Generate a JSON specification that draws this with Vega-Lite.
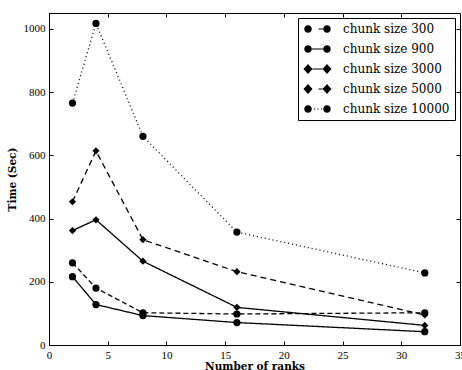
{
  "$schema": "https://vega.github.io/schema/vega-lite/v6.json",
  "width": 411,
  "height": 332,
  "autosize": {"type": "none"},
  "padding": {"left": 49, "top": 13, "right": 2, "bottom": 25},
  "background": "white",
  "config": {
    "view": {"stroke": "black", "strokeWidth": 1},
    "axis": {
      "grid": false,
      "domain": false,
      "tickColor": "black",
      "tickSize": -4,
      "tickWidth": 1,
      "labelColor": "black",
      "labelFont": "Liberation Serif",
      "labelFontSize": 11,
      "labelPadding": 8,
      "labelFlush": false,
      "labelOverlap": false,
      "titleFont": "DejaVu Serif",
      "titleFontWeight": "bold",
      "titleFontSize": 10.5,
      "titleColor": "black"
    }
  },
  "data": {
    "values": [
      {"series": "chunk size 300", "ranks": 2, "time": 260},
      {"series": "chunk size 300", "ranks": 4, "time": 180},
      {"series": "chunk size 300", "ranks": 8, "time": 102},
      {"series": "chunk size 300", "ranks": 16, "time": 98},
      {"series": "chunk size 300", "ranks": 32, "time": 102},
      {"series": "chunk size 900", "ranks": 2, "time": 216},
      {"series": "chunk size 900", "ranks": 4, "time": 128},
      {"series": "chunk size 900", "ranks": 8, "time": 93},
      {"series": "chunk size 900", "ranks": 16, "time": 71},
      {"series": "chunk size 900", "ranks": 32, "time": 42},
      {"series": "chunk size 3000", "ranks": 2, "time": 362},
      {"series": "chunk size 3000", "ranks": 4, "time": 396},
      {"series": "chunk size 3000", "ranks": 8, "time": 265},
      {"series": "chunk size 3000", "ranks": 16, "time": 119},
      {"series": "chunk size 3000", "ranks": 32, "time": 62},
      {"series": "chunk size 5000", "ranks": 2, "time": 453},
      {"series": "chunk size 5000", "ranks": 4, "time": 614},
      {"series": "chunk size 5000", "ranks": 8, "time": 333},
      {"series": "chunk size 5000", "ranks": 16, "time": 232},
      {"series": "chunk size 5000", "ranks": 32, "time": 95},
      {"series": "chunk size 10000", "ranks": 2, "time": 765},
      {"series": "chunk size 10000", "ranks": 4, "time": 1017},
      {"series": "chunk size 10000", "ranks": 8, "time": 660},
      {"series": "chunk size 10000", "ranks": 16, "time": 357},
      {"series": "chunk size 10000", "ranks": 32, "time": 228}
    ]
  },
  "layer": [
    {
      "mark": {"type": "line", "color": "black", "strokeWidth": 1.3},
      "encoding": {
        "x": {"field": "ranks", "type": "quantitative", "scale": {"domain": [0, 35], "nice": false},
              "axis": {"values": [0, 5, 10, 15, 20, 25, 30, 35], "title": "Number of ranks", "titlePadding": 1}},
        "y": {"field": "time", "type": "quantitative", "scale": {"domain": [0, 1050], "nice": false},
              "axis": {"values": [0, 200, 400, 600, 800, 1000], "format": "d", "title": "Time (Sec)", "titlePadding": 6}},
        "strokeDash": {"field": "series", "type": "nominal",
          "scale": {"domain": ["chunk size 300", "chunk size 900", "chunk size 3000", "chunk size 5000", "chunk size 10000"],
                    "range": [[5, 3], [1, 0], [1, 0], [6, 4], [1, 3]]},
          "legend": null}
      }
    },
    {
      "mark": {"type": "point", "filled": true, "color": "black", "opacity": 1},
      "encoding": {
        "x": {"field": "ranks", "type": "quantitative", "axis": null},
        "y": {"field": "time", "type": "quantitative", "axis": null},
        "shape": {"field": "series", "type": "nominal",
          "scale": {"domain": ["chunk size 300", "chunk size 900", "chunk size 3000", "chunk size 5000", "chunk size 10000"],
                    "range": ["circle", "circle", "diamond", "diamond", "circle"]},
          "legend": null},
        "size": {"field": "series", "type": "nominal",
          "scale": {"domain": ["chunk size 300", "chunk size 900", "chunk size 3000", "chunk size 5000", "chunk size 10000"],
                    "range": [52, 52, 100, 100, 52]},
          "legend": null}
      }
    },
    {
      "mark": {"type": "point", "filled": true, "color": "black", "opacity": 0, "size": 100},
      "encoding": {
        "x": {"field": "ranks", "type": "quantitative",
              "axis": {"orient": "top", "labels": false, "title": null, "values": [0, 5, 10, 15, 20, 25, 30, 35]}},
        "y": {"field": "time", "type": "quantitative",
              "axis": {"orient": "right", "labels": false, "title": null, "values": [0, 200, 400, 600, 800, 1000]}},
        "shape": {"field": "series", "type": "nominal",
          "scale": {"domain": ["chunk size 300", "chunk size 900", "chunk size 3000", "chunk size 5000", "chunk size 10000"],
                    "range": [
                      "M-0.95,0A0.75,0.75,0,1,0,0.55,0A0.75,0.75,0,1,0,-0.95,0ZM2.85,0A0.75,0.75,0,1,0,4.35,0A0.75,0.75,0,1,0,2.85,0ZM1.9,-0.12L2.85,-0.12L2.85,0.12L1.9,0.12Z",
                      "M-0.95,0A0.75,0.75,0,1,0,0.55,0A0.75,0.75,0,1,0,-0.95,0ZM2.85,0A0.75,0.75,0,1,0,4.35,0A0.75,0.75,0,1,0,2.85,0ZM0.55,-0.12L2.85,-0.12L2.85,0.12L0.55,0.12Z",
                      "M-1.1,0L-0.2,-1L0.7,0L-0.2,1ZM2.7,0L3.6,-1L4.5,0L3.6,1ZM0.7,-0.12L2.7,-0.12L2.7,0.12L0.7,0.12Z",
                      "M-1.1,0L-0.2,-1L0.7,0L-0.2,1ZM2.7,0L3.6,-1L4.5,0L3.6,1ZM1.9,-0.12L2.7,-0.12L2.7,0.12L1.9,0.12Z",
                      "M-0.95,0A0.75,0.75,0,1,0,0.55,0A0.75,0.75,0,1,0,-0.95,0ZM2.85,0A0.75,0.75,0,1,0,4.35,0A0.75,0.75,0,1,0,2.85,0ZM1.0,-0.12L1.24,-0.12L1.24,0.12L1.0,0.12ZM1.7,-0.12L1.94,-0.12L1.94,0.12L1.7,0.12ZM2.4,-0.12L2.64,-0.12L2.64,0.12L2.4,0.12Z"
                    ]},
          "legend": {
            "title": null,
            "orient": "top-right",
            "offset": 5,
            "padding": 5,
            "strokeColor": "black",
            "fillColor": "white",
            "symbolSize": 100,
            "symbolOpacity": 1,
            "symbolFillColor": "black",
            "symbolStrokeColor": "black",
            "symbolStrokeWidth": 0,
            "labelFont": "DejaVu Serif",
            "labelFontSize": 12,
            "labelColor": "black",
            "labelOffset": 28,
            "rowPadding": 8,
            "labelLimit": 300,
            "encode": {
              "symbols": {"update": {"fill": {"value": "black"}, "strokeWidth": {"value": 0}, "opacity": {"value": 1}, "fillOpacity": {"value": 1}}}
            }
          }
        }
      }
    }
  ],
  "resolve": {
    "scale": {"shape": "independent"},
    "axis": {"x": "independent", "y": "independent"}
  }
}
